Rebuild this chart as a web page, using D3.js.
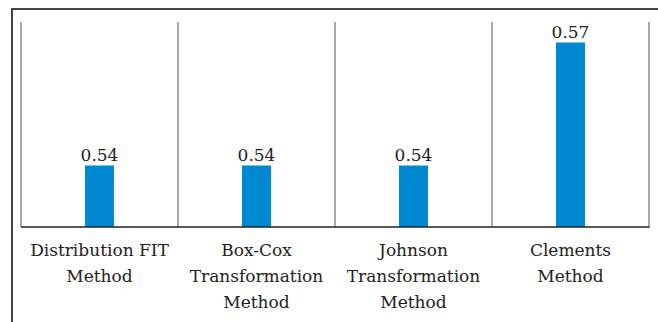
<!DOCTYPE html>
<html>
<head>
<meta charset="utf-8">
<script src="https://cdn.jsdelivr.net/npm/d3@7"></script>
<style>
html,body{margin:0;padding:0;background:#fff;}
svg{display:block;}
</style>
</head>
<body>
<svg id="chart" width="658" height="322"></svg>
<script>
const categories = [["Distribution FIT","Method"],["Box-Cox","Transformation","Method"],["Johnson","Transformation","Method"],["Clements","Method"]];
const categoryKeys = ["Distribution FIT Method","Box-Cox Transformation Method","Johnson Transformation Method","Clements Method"];
const values = [0.54, 0.54, 0.54, 0.57];
const valueLabels = ["0.54","0.54","0.54","0.57"];

(function(){
const svg = d3.select("#chart");
const pLeft = 21, pRight = 649, pTop = 22, pBottom = 227;
const font = "'DejaVu Serif', serif";

// outer frame (partially visible)
svg.append("line").attr("x1",12).attr("x2",660).attr("y1",9).attr("y2",9).attr("stroke","#444").attr("stroke-width",2);
svg.append("line").attr("x1",12).attr("x2",12).attr("y1",8).attr("y2",330).attr("stroke","#444").attr("stroke-width",2);

const x = d3.scaleBand().domain(categoryKeys).range([pLeft,pRight]).padding(0);
const y = d3.scaleLinear().domain([0.525,0.575]).range([pBottom,pTop]);

// category separators
const bounds = categoryKeys.map(k=>x(k)).concat([pRight]);
svg.selectAll("line.sep").data(bounds).enter().append("line")
  .attr("class","sep")
  .attr("x1",d=>d).attr("x2",d=>d)
  .attr("y1",pTop).attr("y2",pBottom)
  .attr("stroke","#555").attr("stroke-width",1);

// bars
const bw = x.bandwidth()*0.185;
svg.selectAll("rect.bar").data(values).enter().append("rect")
  .attr("class","bar")
  .attr("x",(d,i)=>x(categoryKeys[i])+x.bandwidth()/2-bw/2)
  .attr("width",bw)
  .attr("y",d=>y(d))
  .attr("height",d=>y.range()[0]-y(d))
  .attr("fill","#0088d1");

// value labels
svg.selectAll("text.val").data(values).enter().append("text")
  .attr("class","val")
  .attr("x",(d,i)=>x(categoryKeys[i])+x.bandwidth()/2)
  .attr("y",d=>y(d)-5)
  .attr("text-anchor","middle")
  .attr("font-family",font).attr("font-size",17).attr("fill","#222")
  .text((d,i)=>valueLabels[i]);

// baseline
svg.append("line").attr("x1",pLeft).attr("x2",pRight+0.5).attr("y1",pBottom).attr("y2",pBottom)
  .attr("stroke","#222").attr("stroke-width",1.5);

// category labels
categories.forEach((lines,i)=>{
  const cx = x(categoryKeys[i])+x.bandwidth()/2;
  const t = svg.append("text")
    .attr("x",cx)
    .attr("y",256)
    .attr("text-anchor","middle")
    .attr("font-family",font).attr("font-size",17).attr("fill","#222");
  lines.forEach((l,j)=>{
    t.append("tspan").attr("x",cx).attr("dy",j===0?0:26).text(l);
  });
});
})();
</script>
</body>
</html>
